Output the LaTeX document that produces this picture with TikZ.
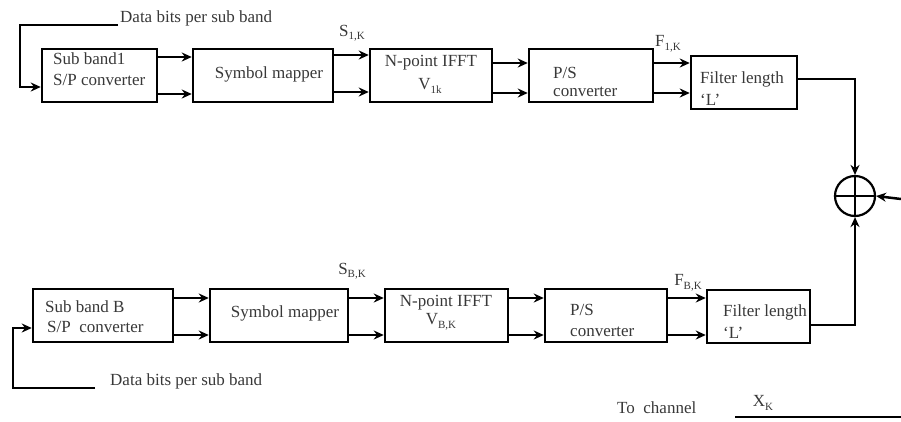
\documentclass[tikz,border=0pt]{standalone}
\usepackage{fontspec}
\setmainfont{Liberation Serif}
\usetikzlibrary{arrows.meta}
\newcommand{\lowsub}[1]{\raisebox{-0.45ex}{\fontsize{11}{11}\selectfont #1}}
\begin{document}
\begin{tikzpicture}[x=1pt,y=-1pt,
  box/.style={draw,line width=2.5pt,inner sep=0pt,minimum height=53pt},
  txt/.style={inner sep=0pt,text=black!78,font=\fontsize{17}{19}\selectfont},
  lbl/.style={txt,anchor=west},
  arr/.style={line width=2.5pt,-{Stealth[length=10pt,width=9pt]}},
  wire/.style={line width=2.5pt}]
\useasboundingbox (0,0) rectangle (901,421);
% top row
\node[box,minimum width=115pt] (t1) at (99.5,75.5) {};
\node[box,minimum width=140pt] (t2) at (263,75.5) {};
\node[box,minimum width=122pt] (t3) at (431,75.5) {};
\node[box,minimum width=124pt] (t4) at (591,75.5) {};
\node[box,minimum width=106pt] (t5) at (744,82.5) {};
% bottom row
\node[box,minimum width=140pt] (b1) at (103,315.5) {};
\node[box,minimum width=138pt] (b2) at (279,315.5) {};
\node[box,minimum width=123pt] (b3) at (446.5,315.5) {};
\node[box,minimum width=122pt] (b4) at (606,315.5) {};
\node[box,minimum width=103pt] (b5) at (758.5,316.5) {};
% summer
\node[draw,circle,line width=2.2pt,minimum size=40pt,inner sep=0pt] (sum) at (855,196) {};
\draw[line width=1.8pt] (sum.north) -- (sum.south) (sum.west) -- (sum.east);
% box texts top
\node[lbl] (t1a) at (53,59) {Sub band1};
\node[lbl] (t1b) at (53,80) {S/P converter};
\node[txt] (t2a) at (269,74) {Symbol mapper};
\node[txt] (t3a) at (431,63) {N-point IFFT};
\node[txt] (t3b) at (430,86) {V\lowsub{1k}};
\node[lbl] (t4a) at (553,73) {P/S};
\node[lbl] (t4b) at (553,92) {converter};
\node[lbl] (t5a) at (700,79) {Filter length};
\node[lbl] (t5b) at (700,100) {‘L’};
% box texts bottom
\node[lbl] (b1a) at (45,307) {Sub band B};
\node[lbl] (b1b) at (47,327) {S/P\ \ converter};
\node[txt] (b2a) at (285,313) {Symbol mapper};
\node[txt] (b3a) at (446,303) {N-point IFFT};
\node[txt] (b3b) at (441,322) {V\lowsub{B,K}};
\node[lbl] (b4a) at (570,310) {P/S};
\node[lbl] (b4b) at (570,332) {converter};
\node[lbl] (b5a) at (723,312) {Filter length};
\node[lbl] (b5b) at (723,333) {‘L’};
% signal labels
\node[txt] (s1) at (352,33) {S\lowsub{1,K}};
\node[txt] (f1) at (668,44) {F\lowsub{1,K}};
\node[txt] (sb) at (352,271) {S\lowsub{B,K}};
\node[txt] (fb) at (688,283) {F\lowsub{B,K}};
\node[lbl] (d1) at (120,18) {Data bits per sub band};
\node[lbl] (d2) at (110,381) {Data bits per sub band};
\node[lbl] (tc) at (617,408) {To\ \ channel};
\node[txt] (xk) at (763,403) {X\lowsub{K}};
% connectors top
\foreach \y in {57,94} \draw[arr] (t1.east |- 0,\y) -- (t2.west |- 0,\y);
\foreach \y in {55,92} \draw[arr] (t2.east |- 0,\y) -- (t3.west |- 0,\y);
\foreach \y in {63,93} \draw[arr] (t3.east |- 0,\y) -- (t4.west |- 0,\y);
\foreach \y in {63,93} \draw[arr] (t4.east |- 0,\y) -- (t5.west |- 0,\y);
% connectors bottom
\foreach \y in {298,335} \draw[arr] (b1.east |- 0,\y) -- (b2.west |- 0,\y);
\foreach \y in {298,335} \draw[arr] (b2.east |- 0,\y) -- (b3.west |- 0,\y);
\foreach \y in {298,335} \draw[arr] (b3.east |- 0,\y) -- (b4.west |- 0,\y);
\foreach \y in {298,335} \draw[arr] (b4.east |- 0,\y) -- (b5.west |- 0,\y);
% inputs
\coordinate (in1) at (118,25);
\coordinate (in2) at (95,388);
\draw[arr] (in1) -- (20,25) -- (20,87) -- (t1.west |- 0,87);
\draw[arr] (in2) -- (13,388) -- (13,328) -- (b1.west |- 0,328);
% to summer
\draw[arr] (t5.east |- 0,79) -| (sum.north);
\draw[arr] (b5.east |- 0,325) -| (sum.south);
\coordinate (rin) at (901,199);
\draw[arr] (rin) -- (sum.east);
% output line
\coordinate (o1) at (735,417);
\coordinate (o2) at (901,417);
\draw[wire] (o1) -- (o2);
\end{tikzpicture}
\end{document}
